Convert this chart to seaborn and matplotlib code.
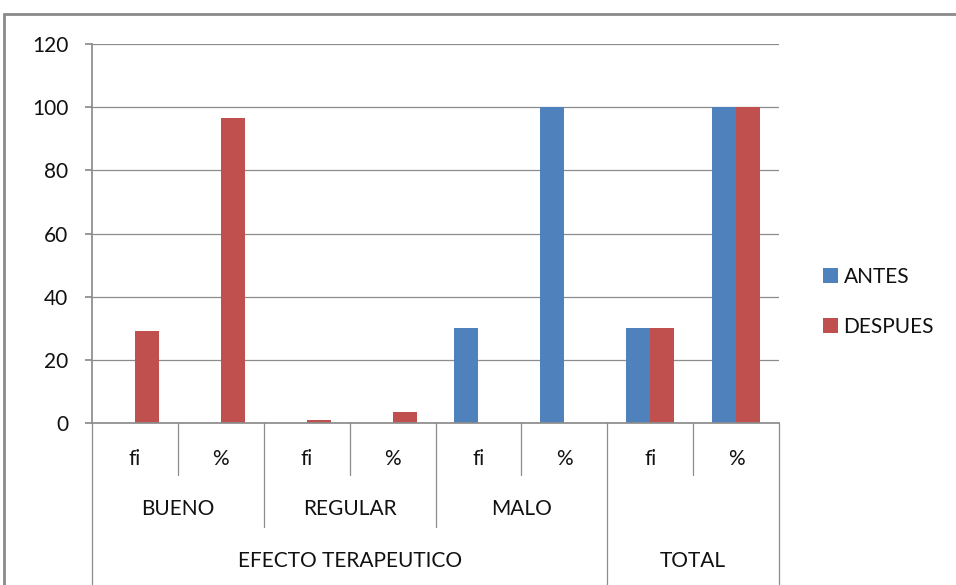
import matplotlib
matplotlib.use("Agg")
import matplotlib.pyplot as plt
import seaborn as sns
import pandas as pd
from matplotlib.patches import Rectangle

# ---- data ----
groups = ["BUENO", "BUENO", "REGULAR", "REGULAR", "MALO", "MALO", "TOTAL", "TOTAL"]
measures = ["fi", "%", "fi", "%", "fi", "%", "fi", "%"]
antes = [0, 0, 0, 0, 30, 100, 30, 100]
despues = [29, 96.67, 1, 3.33, 0, 0, 30, 100]
series = ["ANTES", "DESPUES"]
top_groups = ["EFECTO TERAPEUTICO", "TOTAL"]

keys = [f"{g} {m}" for g, m in zip(groups, measures)]
df = pd.DataFrame({
    "cat": keys * 2,
    "serie": [series[0]] * len(keys) + [series[1]] * len(keys),
    "valor": antes + despues,
})

sns.set_theme(style="white")
plt.rcParams["font.family"] = ["Lato", "DejaVu Sans"]

fig = plt.figure(figsize=(9.56, 5.85), dpi=100)
W, H = 956, 585
ax = fig.add_axes([92 / W, (H - 423) / H, (779 - 92) / W, (423 - 44) / H])

sns.barplot(data=df, x="cat", y="valor", hue="serie", order=keys,
            hue_order=series, palette=["#4F81BD", "#C0504D"],
            width=0.56, gap=0, saturation=1, linewidth=0, ax=ax, legend=True)

FS = 15
TC = "#111111"
ax.set_ylim(0, 120)
ax.set_yticks(range(0, 121, 20))
ax.set_xlim(-0.5, 7.5)
ax.yaxis.grid(True, color="#8c8c8c", linewidth=0.9)
ax.set_axisbelow(True)
ax.set_xlabel("")
ax.set_ylabel("")
for s in ["top", "right"]:
    ax.spines[s].set_visible(False)
ax.spines["left"].set_color("#8c8c8c")
ax.spines["bottom"].set_color("#8c8c8c")
ax.tick_params(axis="y", length=5, color="#8c8c8c", labelsize=FS, labelcolor=TC, pad=12, left=True)
ax.tick_params(axis="x", length=0)
ax.set_xticks(range(len(keys)))
ax.set_xticklabels([])

trans = ax.get_xaxis_transform()
ah = 423 - 44
def yax(py):
    return (423 - py) / ah

# level 1 labels
for i, m in enumerate(measures):
    ax.text(i, yax(459), m, transform=trans, ha="center", va="center", fontsize=FS, color=TC)
# level 2 labels
sub = [("BUENO", 0.5), ("REGULAR", 2.5), ("MALO", 4.5)]
for name, xc in sub:
    ax.text(xc, yax(509), name, transform=trans, ha="center", va="center", fontsize=FS, color=TC)
ax.text(2.5, yax(561), top_groups[0], transform=trans, ha="center", va="center", fontsize=FS, color=TC)
ax.text(6.5, yax(561), top_groups[1], transform=trans, ha="center", va="center", fontsize=FS, color=TC)

# separators
lc = "#8c8c8c"
for xs in [0.5, 2.5, 4.5, 6.5]:
    ax.plot([xs, xs], [0, yax(475)], transform=trans, color=lc, lw=0.9, clip_on=False)
for xs in [1.5, 3.5]:
    ax.plot([xs, xs], [0, yax(527)], transform=trans, color=lc, lw=0.9, clip_on=False)
for xs in [-0.5, 5.5, 7.5]:
    ax.plot([xs, xs], [0, yax(600)], transform=trans, color=lc, lw=0.9, clip_on=False)

# legend
leg = ax.legend(loc="center left", bbox_to_anchor=(804 / W, (H - 302) / H),
                bbox_transform=fig.transFigure, frameon=False, fontsize=FS,
                handlelength=0.75, handleheight=0.75, handletextpad=0.25, labelspacing=1.45)
for t in leg.get_texts():
    t.set_color(TC)

# outer border
fig.patches.append(Rectangle((4 / W, -0.1), 1.2, (H - 14) / H + 0.1, transform=fig.transFigure,
                             fill=False, edgecolor="#8a8a8a", linewidth=2))

fig.savefig("out.png", dpi=100)
